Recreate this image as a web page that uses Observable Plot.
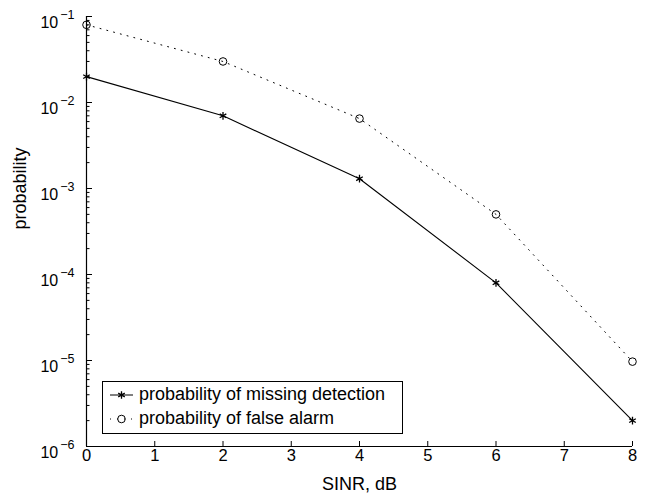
<!DOCTYPE html>
<html><head><meta charset="utf-8">
<script src="https://cdn.jsdelivr.net/npm/d3@7"></script>
<script src="https://cdn.jsdelivr.net/npm/@observablehq/plot@0.6"></script>
<style>
html,body{margin:0;padding:0;background:#fff;}
#chart{width:651px;height:501px;}
svg{font-family:"Liberation Sans", Arial, sans-serif;}
</style></head><body><div id="chart"></div>
<script>
// ---- data ----
const sinr = [0, 2, 4, 6, 8];
const pMissed = [0.02, 0.007, 0.0013, 8e-5, 2e-6];
const pFalse = [0.08, 0.03, 0.0065, 5e-4, 9.7e-6];
const seriesNames = ["probability of missing detection", "probability of false alarm"];
const xTicks = [0, 1, 2, 3, 4, 5, 6, 7, 8];
const yMajor = [1e-6, 1e-5, 1e-4, 1e-3, 1e-2, 1e-1];
const minorMult = [2, 3, 4, 5, 6, 7, 8, 9];
const yMinor = yMajor.slice(0, -1).flatMap(d => minorMult.map(m => m * d));
const xLabel = "SINR, dB";
const yLabel = "probability";

const missed = sinr.map((x, i) => ({x, y: pMissed[i]}));
const falseA = sinr.map((x, i) => ({x, y: pFalse[i]}));

const W = 651, H = 501, ML = 86, MR = 19, MT = 16, MB = 55;
const plotW = W - ML - MR, plotH = H - MT - MB;

const chart = Plot.plot({
  width: W, height: H,
  marginLeft: ML, marginRight: MR, marginTop: MT, marginBottom: MB,
  style: {fontFamily: '"Liberation Sans", Arial, sans-serif', color: "#000", background: "#fff"},
  x: {domain: [0, 8]},
  y: {type: "log", domain: [1e-6, 1e-1]},
  marks: [
    Plot.line(falseA, {x: "x", y: "y", stroke: "#000", strokeWidth: 1, strokeDasharray: "1,6"}),
    Plot.line(missed, {x: "x", y: "y", stroke: "#000", strokeWidth: 1.1}),
    Plot.dot(falseA, {x: "x", y: "y", r: 3.8, stroke: "#000", fill: "none", strokeWidth: 1}),
    Plot.dot(missed, {x: "x", y: "y", r: 3.6, symbol: "asterisk", stroke: "#000", strokeWidth: 1.3}),
    // inward ticks
    Plot.tickX(xTicks, {x: d => d, insetTop: plotH - 5, stroke: "#000", strokeWidth: 1}),
    Plot.tickY(yMajor, {y: d => d, insetRight: plotW - 6, stroke: "#000", strokeWidth: 1}),
    Plot.tickY(yMinor, {y: d => d, insetRight: plotW - 3.5, stroke: "#000", strokeWidth: 1}),
    // axis lines
    Plot.ruleX([0], {stroke: "#000", strokeWidth: 1.2}),
    Plot.ruleY([1e-6], {stroke: "#000", strokeWidth: 1.2}),
    // tick labels
    Plot.axisX({ticks: xTicks, tickSize: 0, tickPadding: 3, fontSize: 16.5, label: null, tickFormat: d => String(d)}),
    Plot.axisY({ticks: yMajor, tickSize: 0, tickPadding: 12, fontSize: 16, label: null,
      tickFormat: d => "\u2212" + Math.abs(Math.round(Math.log10(d)))}),
    // axis titles
    Plot.text([xLabel], {frameAnchor: "bottom", dy: 43, fontSize: 18, fill: "#000"}),
    Plot.text([yLabel], {frameAnchor: "left", dx: -66, dy: -2, rotate: -90, fontSize: 18, fill: "#000"})
  ]
});
document.getElementById("chart").appendChild(chart);

const svg = d3.select(chart);
// superscript exponents on y tick labels
svg.selectAll('g[aria-label="y-axis tick label"] text').each(function() {
  const e = this.textContent;
  const t = d3.select(this);
  t.text(null);
  t.append("tspan").attr("dy", "6").text("10");
  t.append("tspan").attr("dy", "-9").attr("dx", "2").attr("font-size", "12.5px").text(e);
});

// legend (inside the plot area)
const lg = svg.append("g").attr("font-size", "18px").attr("text-anchor", "start");
lg.append("rect").attr("x", 102.5).attr("y", 381.5).attr("width", 300).attr("height", 52)
  .attr("fill", "#fff").attr("stroke", "#000").attr("stroke-width", 1);
const rows = [
  {name: seriesNames[0], y: 395, dash: null, sym: d3.symbolAsterisk},
  {name: seriesNames[1], y: 419, dash: "1,6", sym: d3.symbolCircle}
];
rows.forEach(r => {
  lg.append("line").attr("x1", 110).attr("x2", 133).attr("y1", r.y).attr("y2", r.y)
    .attr("stroke", "#000").attr("stroke-width", 1).attr("stroke-dasharray", r.dash);
  lg.append("path").attr("d", d3.symbol(r.sym, r.sym === d3.symbolCircle ? 45 : 40)())
    .attr("transform", `translate(121.5,${r.y})`).attr("fill", "none").attr("stroke", "#000")
    .attr("stroke-width", r.sym === d3.symbolCircle ? 1 : 1.3);
  lg.append("text").attr("x", 139).attr("y", r.y).attr("dy", "0.3em").attr("fill", "#000").text(r.name);
});
</script></body></html>
